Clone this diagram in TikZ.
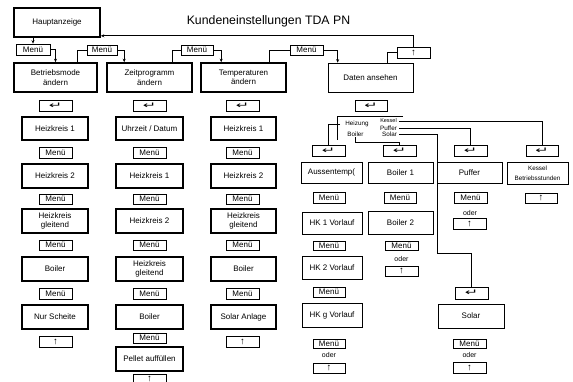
\documentclass[tikz,border=0pt]{standalone}
\usepackage{fontspec}
\setmainfont{Liberation Sans}
\newfontfamily\dvfont{DejaVu Sans}
\usetikzlibrary{arrows.meta}
\newcommand\fsz[2]{\fontsize{#1pt}{#2pt}\selectfont}
\newcommand\retsym{\scalebox{2}[1.1]{\dvfont\fsz{8}{8}↵}}
\newcommand\upsym{{\fsz{9.5}{9.5}↑}}
\newcommand\bx[6]{\node[#1, minimum width={(#4-#2)*1pt}, minimum height={(#5-#3)*1pt}] (#6) at ({(#2+#4)/2},{(#3+#5)/2})}
\tikzset{
  thk/.style={draw, line width=1.6pt, inner sep=0pt, align=center, font=\fsz{8}{9.5}},
  thn/.style={draw, line width=0.7pt, inner sep=0pt, align=center, font=\fsz{8}{9.5}},
  conn/.style={line width=0.7pt},
  arr/.style={conn, -{Stealth[length=3.5pt,width=3pt]}},
  lbl/.style={inner sep=0pt, font=\fsz{7}{7}},
  small/.style={inner sep=0pt, font=\fsz{6.3}{6.3}}
}
\begin{document}
\begin{tikzpicture}[x=1pt,y=-1pt]
\useasboundingbox[fill=white] (0,0) rectangle (573,381);
\node[inner sep=0pt, font=\fsz{12.3}{12.3}] (title) at (268.5,21) {Kundeneinstellungen TDA PN};
% top row
\bx{thk}{14}{8}{100}{37}{haupt} {Hauptanzeige};
\bx{thn}{16}{44}{50}{55}{mA} {Menü};
\bx{thk}{14}{63}{97}{92}{bm} {Betriebsmode\\ändern};
\bx{thn}{87}{45}{117}{55}{mB} {Menü};
\bx{thk}{107}{63}{192}{92}{zp} {Zeitprogramm\\ändern};
\bx{thn}{181}{45}{213}{55}{mC} {Menü};
\bx{thk}{201}{63}{286}{92}{tp} {Temperaturen\\ändern};
\bx{thn}{290}{45}{323}{55}{mD} {Menü};
\bx{thn}{328}{63}{413}{92}{daten} {Daten ansehen};
\bx{thn}{397}{47}{430}{58}{upTop} {\upsym};
\draw[arr] (haupt.south -| mA.north) -- (mA.north);
\draw[arr] (mA.east) -| (bm.north);
\draw[conn] ([xshift=-20pt]bm.north east) |- (mB.west);
\draw[arr] (mB.east) -| ([xshift=18pt]zp.north west);
\draw[conn] ([xshift=-20pt]zp.north east) |- (mC.west);
\draw[arr] (mC.east) -| ([xshift=21pt]tp.north west);
\draw[conn] ([xshift=-17pt]tp.north east) |- (mD.west);
\draw[arr] (mD.east) -| ([xshift=10pt]daten.north west);
\draw[conn] ([xshift=-26pt]daten.north east) |- (upTop.west);
\draw[arr] (upTop.north) |- ([yshift=2pt]haupt.south east);
% column 1
\bx{thn}{39}{100}{72}{111}{e1} {\retsym};
\bx{thk}{22}{117}{88}{140}{a1} {Heizkreis 1};
\bx{thn}{39}{147}{72}{158}{a1m} {Menü};
\bx{thk}{22}{164}{88}{188}{a2} {Heizkreis 2};
\bx{thn}{39}{194}{72}{204}{a2m} {Menü};
\bx{thk}{22}{209}{88}{233}{a3} {Heizkreis\\gleitend};
\bx{thn}{39}{240}{72}{250}{a3m} {Menü};
\bx{thk}{22}{257}{88}{281}{a4} {Boiler};
\bx{thn}{39}{288}{72}{299}{a4m} {Menü};
\bx{thk}{22}{305}{88}{329}{a5} {Nur Scheite};
\bx{thn}{39}{336}{72}{347}{a5u} {\upsym};
% column 2
\bx{thn}{133}{100}{166}{111}{e2} {\retsym};
\bx{thk}{116}{117}{183}{140}{b1} {Uhrzeit / Datum};
\bx{thn}{133}{147}{166}{158}{b1m} {Menü};
\bx{thk}{116}{164}{183}{188}{b2} {Heizkreis 1};
\bx{thn}{133}{194}{166}{204}{b2m} {Menü};
\bx{thk}{116}{209}{183}{233}{b3} {Heizkreis 2};
\bx{thn}{133}{240}{166}{250}{b3m} {Menü};
\bx{thk}{116}{257}{183}{281}{b4} {Heizkreis\\gleitend};
\bx{thn}{133}{288}{166}{299}{b4m} {Menü};
\bx{thk}{116}{305}{183}{329}{b5} {Boiler};
\bx{thn}{133}{333}{166}{343}{b5m} {Menü};
\bx{thk}{116}{347}{183}{371}{b6} {Pellet auffüllen};
\bx{thn}{133}{374}{166}{384}{b6u} {\upsym};
% column 3
\bx{thn}{226}{100}{259}{111}{e3} {\retsym};
\bx{thk}{211}{117}{276}{140}{c1} {Heizkreis 1};
\bx{thn}{226}{147}{259}{158}{c1m} {Menü};
\bx{thk}{211}{164}{276}{188}{c2} {Heizkreis 2};
\bx{thn}{226}{194}{259}{204}{c2m} {Menü};
\bx{thk}{211}{209}{276}{233}{c3} {Heizkreis\\gleitend};
\bx{thn}{226}{240}{259}{250}{c3m} {Menü};
\bx{thk}{211}{257}{276}{281}{c4} {Boiler};
\bx{thn}{226}{288}{259}{299}{c4m} {Menü};
\bx{thk}{211}{305}{276}{329}{c5} {Solar Anlage};
\bx{thn}{226}{336}{259}{347}{c5u} {\upsym};
% Daten column
\bx{thn}{355}{100}{387}{111}{e4} {\retsym};
\coordinate (ovNW) at (337,116);
\coordinate (ovNE) at (403,116);
\coordinate (ovSW) at (337,140);
\draw[conn] (ovNE) -- (ovNW) -- (ovSW);
\node[small] (heiz) at (357,124) {Heizung};
\node[small, font=\fsz{5.5}{5.5}] (kes) at (388.5,121) {Kessel};
\node[small] (puf) at (388.5,128) {Puffer};
\node[small] (sol) at (389.5,134.5) {Solar};
\node[small] (boil) at (355.5,134.5) {Boiler};
\bx{thn}{312}{145}{345}{156}{eA} {\retsym};
\bx{thn}{383}{145}{416}{156}{eB} {\retsym};
\bx{thn}{454}{145}{487}{156}{eC} {\retsym};
\bx{thn}{526}{145}{558}{156}{eD} {\retsym};
\bx{thn}{455}{287}{488}{299}{eS} {\retsym};
\draw[conn] ([xshift=-5pt]heiz.west) -| (eA.north);
\draw[conn] (boil.south) -- ++(0,5) -| (eB.north);
\draw[conn] ([xshift=2pt]kes.east) -| (eD.north);
\draw[conn] ([xshift=2pt]puf.east) -| (eC.north);
\coordinate (sbend) at (437,253);
\draw[conn] ([xshift=2pt]sol.east) -| (sbend) -| (eS.north);
\bx{thn}{301}{162}{362}{183}{dA1} {Aussentemp(};
\bx{thn}{368}{162}{433}{183}{dB1} {Boiler 1};
\bx{thn}{437}{162}{502}{183}{dC1} {Puffer};
\bx{thn}{507}{162}{568}{184}{dD1} {\fsz{6.3}{9}Kessel\\\fsz{6.3}{9}Betriebsstunden};
\bx{thn}{313}{192}{345}{203}{mA1} {Menü};
\bx{thn}{384}{192}{416}{203}{mB1} {Menü};
\bx{thn}{454}{192}{487}{203}{mC1} {Menü};
\bx{thn}{525}{193}{557}{203}{uD} {\upsym};
\bx{thn}{302}{212}{362}{234}{dA2} {HK 1 Vorlauf};
\bx{thn}{368}{211}{433}{234}{dB2} {Boiler 2};
\bx{thn}{313}{241}{345}{250}{mA2} {Menü};
\bx{thn}{385}{241}{418}{250}{mB2} {Menü};
\node[lbl] (oB) at (401.5,258.5) {oder};
\bx{thn}{385}{266}{418}{276}{uB} {\upsym};
\node[lbl] (oC) at (470,212.5) {oder};
\bx{thn}{453}{218}{486}{229}{uC} {\upsym};
\bx{thn}{302}{256}{362}{279}{dA3} {HK 2 Vorlauf};
\bx{thn}{313}{287}{345}{297}{mA3} {Menü};
\bx{thn}{302}{303}{362}{327}{dA4} {HK g Vorlauf};
\bx{thn}{313}{339}{345}{348}{mA4} {Menü};
\node[lbl] (oA) at (329,355) {oder};
\bx{thn}{313}{363}{345}{373}{uA} {\upsym};
\bx{thn}{438}{304}{504}{328}{dS} {Solar};
\bx{thn}{453}{339}{486}{348}{mS} {Menü};
\node[lbl] (oS) at (469.5,355) {oder};
\bx{thn}{453}{362}{486}{373}{uS} {\upsym};
\end{tikzpicture}
\end{document}
